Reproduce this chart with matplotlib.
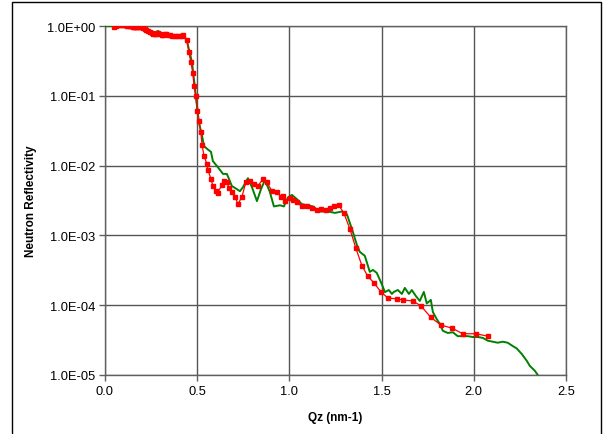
import matplotlib
matplotlib.use("Agg")
import matplotlib.pyplot as plt
from matplotlib.patches import Rectangle

plt.rcParams['font.family'] = ['Liberation Sans', 'DejaVu Sans']

# measured reflectivity (red squares)
q_meas = [0.049, 0.060, 0.070, 0.080, 0.090, 0.100, 0.108, 0.115, 0.122, 0.129,
          0.136, 0.143, 0.150, 0.157, 0.163, 0.170, 0.176, 0.183, 0.190, 0.198,
          0.206, 0.217, 0.225, 0.233, 0.245, 0.255, 0.263, 0.271, 0.279, 0.287,
          0.298, 0.309, 0.317, 0.325, 0.333, 0.340, 0.352, 0.365, 0.379, 0.393,
          0.407, 0.415, 0.423, 0.444, 0.455, 0.466, 0.477, 0.482, 0.493, 0.499,
          0.509, 0.520, 0.526, 0.537, 0.553, 0.558, 0.575, 0.585, 0.602, 0.612,
          0.634, 0.645, 0.661, 0.672, 0.688, 0.705, 0.721, 0.743, 0.764, 0.786,
          0.808, 0.829, 0.856, 0.878, 0.905, 0.932, 0.954, 0.965, 0.976, 1.003,
          1.019, 1.041, 1.068, 1.095, 1.122, 1.149, 1.171, 1.198, 1.220, 1.241,
          1.268, 1.295, 1.328, 1.360, 1.393, 1.425, 1.458, 1.496, 1.534, 1.583,
          1.615, 1.669, 1.713, 1.767, 1.821, 1.881, 1.940, 2.011, 2.076]
r_meas = [0.97, 1.0, 1.03, 1.02, 1.02, 1.03, 1.03, 1.02, 1.01, 1.0,
          1.0, 0.99, 0.98, 0.98, 0.97, 0.97, 0.97, 0.97, 0.97, 0.96,
          0.94, 0.91, 0.88, 0.85, 0.82, 0.79, 0.78, 0.77, 0.78, 0.79,
          0.76, 0.74, 0.75, 0.77, 0.76, 0.75, 0.74, 0.73, 0.72, 0.72,
          0.72, 0.73, 0.74, 0.64, 0.42, 0.30, 0.21, 0.14, 0.098, 0.061,
          0.044, 0.030, 0.020, 0.0137, 0.0105, 0.0087, 0.0064, 0.0051, 0.0043, 0.0041,
          0.0053, 0.0060, 0.0058, 0.0048, 0.0042, 0.0036, 0.0028, 0.0036, 0.0058, 0.0060,
          0.0055, 0.0051, 0.0064, 0.0058, 0.0043, 0.0042, 0.0036, 0.0037, 0.0031, 0.0034,
          0.0032, 0.0030, 0.0026, 0.0026, 0.0025, 0.0023, 0.0024, 0.0023, 0.0025, 0.0026,
          0.0027, 0.0021, 0.00124, 0.00066, 0.00037, 0.00026, 0.00021, 0.000155, 0.000127, 0.000123,
          0.000119, 0.000115, 9.8e-5, 6.7e-5, 5.2e-5, 4.7e-5, 3.9e-5, 3.9e-5, 3.6e-5]

# model fit (green line)
q_fit = [0.0, 0.027, 0.081, 0.136, 0.190, 0.228, 0.255, 0.276, 0.287, 0.314,
         0.336, 0.363, 0.396, 0.423, 0.444, 0.461, 0.472, 0.493, 0.509, 0.526,
         0.537, 0.558, 0.575, 0.585, 0.612, 0.640, 0.661, 0.688, 0.715, 0.732,
         0.748, 0.775, 0.797, 0.824, 0.846, 0.867, 0.894, 0.916, 0.949, 0.970,
         0.992, 1.014, 1.041, 1.068, 1.100, 1.127, 1.165, 1.209, 1.247, 1.285,
         1.312, 1.339, 1.366, 1.382, 1.409, 1.436, 1.453, 1.474, 1.501, 1.518,
         1.539, 1.556, 1.566, 1.588, 1.610, 1.626, 1.648, 1.664, 1.686, 1.707,
         1.729, 1.745, 1.767, 1.778, 1.799, 1.816, 1.832, 1.859, 1.886, 1.913,
         1.940, 1.967, 1.995, 2.022, 2.049, 2.076, 2.103, 2.130, 2.157, 2.184,
         2.211, 2.233, 2.260, 2.287, 2.304, 2.331, 2.347]
r_fit = [1.0, 1.0, 1.02, 1.0, 0.97, 0.88, 0.72, 0.82, 0.85, 0.77,
         0.77, 0.74, 0.72, 0.77, 0.61, 0.40, 0.30, 0.099, 0.042, 0.027,
         0.019, 0.017, 0.0157, 0.0116, 0.0095, 0.0076, 0.0076, 0.0051, 0.0046, 0.0043,
         0.0049, 0.0066, 0.0049, 0.0031, 0.0046, 0.0062, 0.0042, 0.0026, 0.0027, 0.0026,
         0.0035, 0.0038, 0.0033, 0.0028, 0.0027, 0.0026, 0.0022, 0.0022, 0.0021, 0.0022,
         0.0020, 0.00124, 0.00073, 0.00058, 0.00051, 0.00030, 0.00032, 0.00029, 0.00020, 0.000154,
         0.000165, 0.000145, 0.000155, 0.000165, 0.000145, 0.000177, 0.000145, 0.000165, 0.000135, 0.000115,
         0.000155, 0.000106, 0.000119, 8.0e-5, 6.3e-5, 5.4e-5, 4.3e-5, 4.0e-5, 4.1e-5, 3.6e-5,
         3.6e-5, 3.6e-5, 3.5e-5, 3.5e-5, 3.4e-5, 3.1e-5, 3.0e-5, 2.9e-5, 3.0e-5, 2.9e-5,
         2.6e-5, 2.4e-5, 2.0e-5, 1.6e-5, 1.35e-5, 1.15e-5, 1.0e-5]

ytick_vals = [1e-5, 1e-4, 1e-3, 1e-2, 1e-1, 1e0]
ytick_labels = ["1.0E-05", "1.0E-04", "1.0E-03", "1.0E-02", "1.0E-01", "1.0E+00"]
xtick_vals = [0.0, 0.5, 1.0, 1.5, 2.0, 2.5]

fig = plt.figure(figsize=(6.04, 4.35), dpi=100)
ax = fig.add_axes([105/604, 59/435, 461/604, 349/435])

ax.plot(q_fit, r_fit, color="#008000", lw=1.4, zorder=3)
ax.plot(q_meas, r_meas, color="red", lw=0.9, marker="s", ms=2.4,
        mec="red", mfc="red", zorder=4)

ax.set_yscale("log")
ax.set_ylim(1e-5, 1e0)
ax.set_xlim(0, 2.5)
ax.set_yticks(ytick_vals)
ax.set_yticklabels(ytick_labels)
ax.minorticks_off()
ax.set_xticks(xtick_vals)
ax.set_xticklabels(["%.1f" % v for v in xtick_vals])
ax.tick_params(direction="out", length=4, width=1, color="#606060",
               labelsize=9.3, pad=3)
ax.grid(True, color="#555555", lw=1.0)
ax.set_axisbelow(True)
for s in ax.spines.values():
    s.set_color("#606060")
    s.set_linewidth(1.0)

ax.set_xlabel("Qz (nm-1)", fontsize=8.5, fontweight="bold", labelpad=10)
ax.set_ylabel("Neutron Reflectivity", fontsize=8.5, fontweight="bold", labelpad=7)

# outer chart border
fig.patches.append(Rectangle((12/604, -0.02), 589/604, 1 - 3/435 + 0.02,
                             transform=fig.transFigure, fill=False,
                             edgecolor="black", lw=1.0))

fig.savefig("out.png", dpi=100)
